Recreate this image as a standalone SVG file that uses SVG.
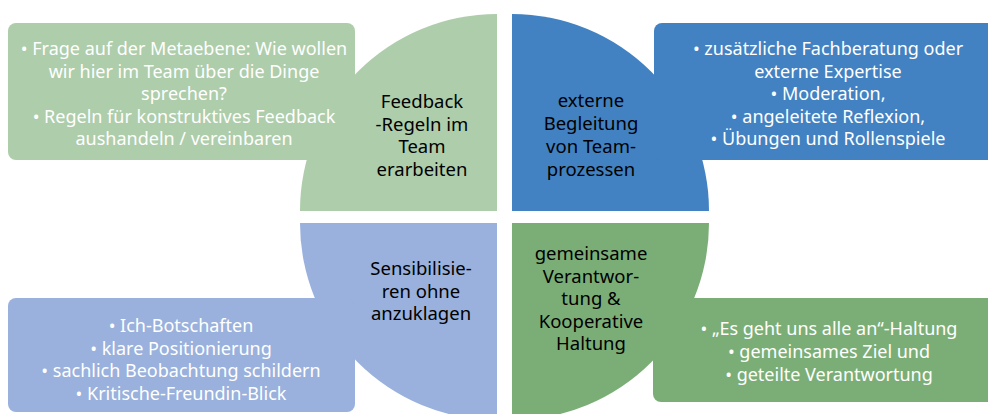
<svg xmlns="http://www.w3.org/2000/svg" width="988" height="414" viewBox="0 0 988 414">
<style>
text{font-family:"Noto Sans","Open Sans",sans-serif;font-size:18px;text-anchor:middle}
.w{fill:#ffffff}
.k{fill:#000000;font-size:18.5px}
.g1{fill:#aecdab}
.b1{fill:#4282c2}
.b2{fill:#99b1dc}
.g2{fill:#7bae76}
</style>
<rect width="988" height="414" fill="#ffffff"/>
<g id="feedback">
<path class="g1" d="M497,211 L300,211 A197,197 0 0 1 497,14 Z"/>
<rect class="g1" x="8" y="23" width="347" height="137" rx="8"/>
<text class="w"><tspan x="184" y="55">• Frage auf der Metaebene: Wie wollen</tspan><tspan x="184" y="77.5">wir hier im Team über die Dinge</tspan><tspan x="184" y="100">sprechen?</tspan><tspan x="184" y="122.5">• Regeln für konstruktives Feedback</tspan><tspan x="184" y="145">aushandeln / vereinbaren</tspan></text>
<text class="k"><tspan x="422" y="108">Feedback</tspan><tspan x="422" y="130.5">-Regeln im</tspan><tspan x="422" y="153">Team</tspan><tspan x="422" y="175.5">erarbeiten</tspan></text>
</g>
<g id="extern">
<path class="b1" d="M512,211 L512,14 A197,197 0 0 1 709,211 Z"/>
<rect class="b1" x="654" y="23" width="346" height="137" rx="8"/>
<text class="w"><tspan x="828" y="55">• zusätzliche Fachberatung oder</tspan><tspan x="828" y="77.5">externe Expertise</tspan><tspan x="828" y="100">• Moderation,</tspan><tspan x="828" y="122.5">• angeleitete Reflexion,</tspan><tspan x="828" y="145">• Übungen und Rollenspiele</tspan></text>
<text class="k"><tspan x="591" y="107">externe</tspan><tspan x="591" y="130">Begleitung</tspan><tspan x="591" y="153">von Team-</tspan><tspan x="591" y="175.5">prozessen</tspan></text>
</g>
<g id="sensibilisieren">
<path class="b2" d="M497,223 L497,420 A197,197 0 0 1 300,223 Z"/>
<rect class="b2" x="8" y="298" width="347" height="114" rx="8"/>
<text class="w"><tspan x="181" y="332">• Ich-Botschaften</tspan><tspan x="181" y="354.5">• klare Positionierung</tspan><tspan x="181" y="377">• sachlich Beobachtung schildern</tspan><tspan x="181" y="399.5">• Kritische-Freundin-Blick</tspan></text>
<text class="k"><tspan x="421" y="275">Sensibilisie-</tspan><tspan x="421" y="297.5">ren ohne</tspan><tspan x="421" y="320">anzuklagen</tspan></text>
</g>
<g id="verantwortung">
<path class="g2" d="M512,223 L709,223 A197,197 0 0 1 512,420 Z"/>
<rect class="g2" x="653" y="298" width="347" height="104" rx="8"/>
<text class="w"><tspan x="829" y="335">• „Es geht uns alle an“-Haltung</tspan><tspan x="829" y="358">• gemeinsames Ziel und</tspan><tspan x="829" y="381">• geteilte Verantwortung</tspan></text>
<text class="k"><tspan x="591" y="260">gemeinsame</tspan><tspan x="591" y="282.5">Verantwor-</tspan><tspan x="591" y="305">tung &amp;</tspan><tspan x="591" y="327.5">Kooperative</tspan><tspan x="591" y="350">Haltung</tspan></text>
</g>
<g id="connectors"></g>
</svg>
